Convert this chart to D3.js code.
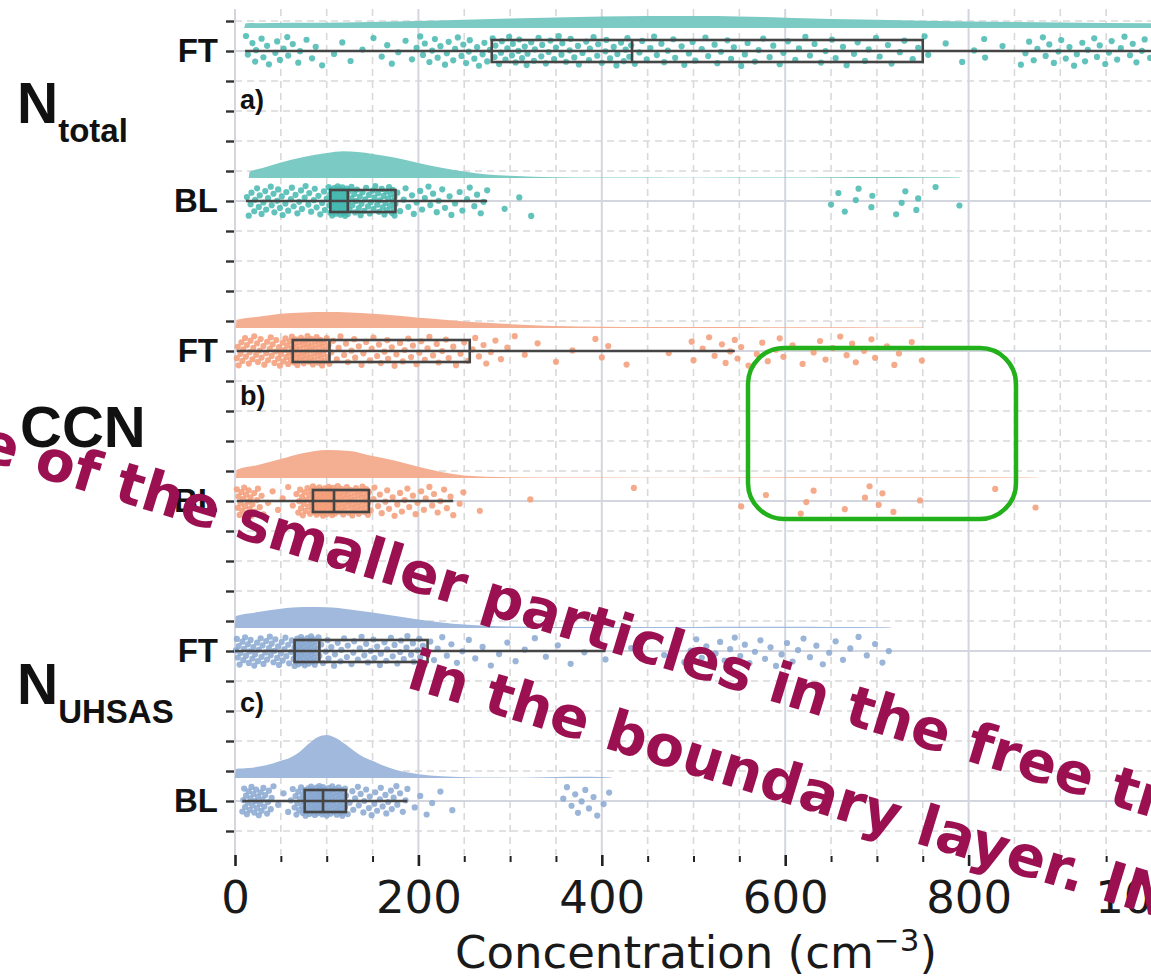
<!DOCTYPE html>
<html>
<head>
<meta charset="utf-8">
<script src="https://cdn.jsdelivr.net/npm/d3@7"></script>
<style>
  body { margin: 0; background: #fff; }
</style>
</head>
<body>
<div id="chart"></div>
<script>

// rows, top to bottom
var rowKeys = ["Ntotal FT", "Ntotal BL", "CCN FT", "CCN BL", "UHSAS FT", "UHSAS BL"];
var rowLabels = ["FT", "BL", "FT", "BL", "FT", "BL"];
var panelLabels = ["a)", "b)", "c)"];
var xTicks = [0, 200, 400, 600, 800, 1000];

// box statistics (cm^-3)
var whiskerLo = [11, 12, 2, 2, 0, 8];
var q1 = [280, 104, 63, 85, 65, 76];
var medians = [433, 123, 103, 108, 92, 96];
var q3 = [750, 175, 256, 146, 210, 121];
var whiskerHi = [1100, 275, 545, 238, 404, 188];

// observations (cm^-3)
var ptsNtotalFT = [12, 14, 19, 22, 23, 29, 31, 35, 37, 44, 46, 49, 53, 57, 58, 63, 69, 71, 78, 84, 88, 95,
  108, 117, 126, 139, 151, 160, 166, 171, 178, 186, 193, 198,
  202, 205, 207, 212, 215, 218, 221, 224, 229, 231, 233, 238, 240, 243, 247, 249, 252, 255, 256, 261, 264, 266, 270, 272, 275, 278,
  281, 283, 284, 288, 290, 291, 295, 297, 299, 302, 303, 306, 309, 310, 313, 316, 318, 319, 323, 326, 327, 331, 334, 335, 339, 342,
  344, 348, 350, 353, 356, 357, 361, 365, 366, 370, 374, 375, 379, 383, 386, 387, 391, 395, 396, 400, 404, 405, 409, 413, 416, 417,
  421, 424, 426, 428, 430, 432,
  436, 441, 444, 449, 453, 457, 460, 465, 468, 472, 478, 480, 487, 490, 495, 499, 502, 509, 513, 516, 523, 526, 530, 537, 541, 544,
  552, 556, 559, 567, 571, 576, 583, 587, 594, 598, 603, 611, 615, 622, 627, 632, 639, 644, 651, 655, 663, 667, 675, 679, 687, 691,
  699, 703, 712, 716, 725, 730, 739, 745,
  752, 756, 775, 793, 806, 817, 818, 837, 857, 862, 866, 871, 875, 881, 884, 888, 893, 898, 901, 906, 910, 915, 918, 924, 927, 930,
  937, 940, 943, 949, 953, 956, 962, 966, 970, 976, 979, 983, 989, 992, 998, 1006, 1013, 1021, 1034, 1047, 1061, 1076, 1092];

var ptsNtotalBL = [13, 15, 17, 18, 21, 22, 24, 26, 27, 29, 31, 33, 34, 36, 39, 40, 42, 43, 46, 47, 49, 51, 52, 55, 56, 58, 61, 62,
  64, 66, 68, 70, 72, 73, 76, 77, 80, 81, 83, 86, 87, 89, 91, 93, 95, 97, 98, 100, 102, 103,
  104, 104, 105, 105, 106, 106, 106, 107, 107, 108, 108, 108, 109, 109, 110, 110, 110, 111, 111, 112, 112, 112, 113, 113, 114, 114,
  114, 115, 115, 116, 116, 116, 117, 117, 118, 118, 118, 119, 119, 120, 120, 120, 121, 121, 121, 122, 122, 122, 123, 123,
  124, 125, 127, 127, 128, 130, 131, 132, 133, 135, 136, 137, 138, 139, 141, 142, 143, 145, 146, 147, 148, 150, 151, 152, 153, 155,
  156, 157, 158, 160, 161, 162, 163, 164, 165, 166, 167, 168, 169, 170, 171, 172, 172, 173, 174, 174, 175,
  177, 180, 184, 186, 189, 193, 195, 198, 202, 204, 207, 211, 213, 216, 220, 222, 226, 229, 234, 236, 240, 245, 248, 253, 256, 261,
  264, 268, 271, 275,
  294, 310, 323,
  650, 658, 665, 677, 680, 694, 695, 721, 727, 731, 743, 745, 764, 790];

var ptsCcnFT = [2, 3, 4, 6, 7, 8, 9, 11, 12, 13, 15, 16, 17, 19, 20, 21, 23, 24, 25, 27, 28, 29, 31, 32, 34, 35, 36, 38, 39, 40,
  41, 43, 44, 45, 47, 48, 49, 50, 52, 53, 54, 55, 56, 57, 58, 59, 60, 61, 62, 62,
  63, 64, 64, 65, 66, 67, 67, 68, 69, 70, 71, 71, 72, 73, 74, 75, 75, 76, 77, 78, 79, 79, 80, 81, 82, 83, 83, 84, 85, 86, 87, 87,
  88, 89, 90, 91, 91, 92, 93, 94, 95, 95, 96, 97, 98, 99, 100, 101, 102, 103,
  105, 107, 111, 113, 115, 119, 121, 123, 127, 130, 131, 135, 138, 140, 143, 147, 149, 151, 155, 157, 159, 163, 166, 167, 171, 174,
  176, 180, 183, 185, 189, 192, 194, 198, 201, 203, 207, 210, 212, 216, 220, 222, 226, 230, 233, 238, 241, 246, 250, 254,
  259, 262, 266, 271, 274, 279, 284, 290, 297, 305, 316, 330, 350, 368, 393, 400, 407, 427, 473, 498, 500, 510, 517, 523, 531, 535,
  540, 545,
  548, 552, 560, 569, 575, 581, 590, 594, 598, 608, 619, 631, 638, 644, 652, 660, 667, 673, 677, 686, 694, 698, 711, 719, 724, 738, 749];

var ptsCcnBL = [2, 3, 4, 5, 6, 7, 8, 9, 10, 11, 12, 13, 14, 15, 16, 17, 18, 19, 21, 22, 24, 25, 27, 29, 31, 36, 41, 47, 52, 58,
  63, 67, 69, 70, 71, 72, 73, 74, 75, 76, 77, 78, 79, 80, 81, 82, 83, 83, 84, 85,
  85, 86, 86, 87, 87, 88, 88, 89, 89, 90, 90, 91, 91, 92, 92, 93, 93, 94, 94, 95, 95, 96, 96, 97, 97, 98, 98, 99, 99, 100, 100,
  101, 101, 102, 102, 103, 103, 104, 104, 104, 105, 105, 106, 106, 106, 107, 107, 107, 108, 108,
  109, 109, 110, 111, 111, 112, 113, 114, 114, 115, 116, 117, 117, 118, 119, 120, 120, 121, 122, 123, 123, 124, 125, 126, 127, 127,
  128, 129, 130, 131, 131, 132, 133, 134, 135, 135, 136, 137, 138, 139, 139, 140, 141, 142, 143, 143, 144, 145, 145, 146,
  148, 151, 152, 156, 158, 160, 164, 166, 168, 172, 174, 177, 180, 182, 185, 188, 190, 194, 197, 199, 203, 206, 208, 212, 215, 217,
  221, 224, 228, 231, 235, 238,
  245, 249, 267, 322, 435, 552, 579, 617, 623, 631, 665, 687, 692, 702, 706, 718, 747, 829, 873];

var ptsUhsasFT = [1, 2, 3, 4, 5, 6, 8, 9, 10, 11, 12, 14, 15, 16, 17, 19, 20, 21, 22, 24, 25, 26, 28, 29, 30, 31, 33, 34, 35, 37,
  38, 39, 40, 42, 43, 44, 46, 47, 48, 50, 51, 52, 54, 55, 56, 58, 59, 61, 62, 64,
  65, 65, 66, 66, 67, 67, 68, 68, 69, 69, 70, 70, 71, 71, 72, 72, 73, 73, 74, 74, 75, 75, 76, 76, 77, 78, 78, 79, 79, 80, 80, 81,
  81, 82, 82, 83, 83, 84, 84, 85, 85, 86, 87, 87, 88, 88, 89, 90, 91, 92,
  94, 96, 99, 101, 102, 105, 108, 109, 112, 115, 116, 119, 122, 123, 127, 129, 130, 134, 136, 138, 141, 143, 145, 148, 151, 152,
  155, 158, 159, 163, 165, 166, 170, 172, 174, 177, 180, 181, 184, 187, 188, 192, 194, 195, 199, 201, 202, 205, 207, 209,
  213, 217, 221, 226, 231, 236, 242, 248, 255, 262, 270, 279, 288, 297, 306, 316, 327, 339, 352, 366, 381, 395, 404,
  432, 452, 468, 481, 490, 497, 503, 509, 514, 519, 524, 529, 534, 540, 545, 551, 556, 561, 567, 573, 578, 584, 590, 596, 602, 608,
  614, 620, 627, 634, 641, 648, 655, 663, 671, 680, 689, 698, 706, 713];

var ptsUhsasBL = [8, 9, 10, 11, 12, 13, 14, 15, 16, 17, 18, 19, 20, 21, 22, 23, 24, 25, 26, 27, 28, 29, 30, 31, 32, 33, 35, 36,
  37, 39, 40, 42, 47, 53, 58, 61, 63, 65, 66, 67, 68, 69, 70, 71, 72, 73, 74, 74, 75, 76,
  76, 77, 77, 78, 78, 79, 79, 80, 80, 80, 81, 81, 82, 82, 83, 83, 84, 84, 84, 85, 85, 86, 86, 87, 87, 88, 88, 88, 89, 89, 90, 90,
  91, 91, 91, 92, 92, 92, 93, 93, 93, 94, 94, 94, 95, 95, 95, 96, 96, 96,
  96, 97, 97, 98, 98, 99, 99, 100, 100, 101, 101, 102, 102, 103, 103, 104, 104, 105, 105, 106, 106, 107, 107, 108, 108, 109, 110,
  110, 111, 111, 112, 112, 113, 113, 114, 114, 115, 115, 116, 116, 117, 117, 118, 118, 119, 119, 120, 120, 121,
  123, 125, 128, 129, 131, 134, 135, 137, 140, 141, 143, 146, 147, 149, 152, 153, 155, 158, 159, 161, 164, 165, 167, 170, 171, 173,
  176, 177, 180, 183, 186, 188,
  196, 202, 209, 215, 224, 237, 358, 362, 367, 371, 374, 378, 382, 386, 391, 395, 402, 408];

// half-violin densities: [concentration, relative density]
var cloudNtotalFT = [[10, 0.0], [12, 0.11], [60, 0.12], [120, 0.13], [200, 0.16], [300, 0.22], [400, 0.27], [450, 0.28], [500, 0.28],
  [550, 0.27], [600, 0.24], [700, 0.19], [800, 0.15], [900, 0.13], [1000, 0.11], [1100, 0.08], [1200, 0.0]];
var cloudNtotalBL = [[15, 0.0], [16, 0.14], [30, 0.23], [50, 0.36], [75, 0.49], [100, 0.58], [118, 0.62], [150, 0.56], [175, 0.47],
  [200, 0.35], [225, 0.24], [250, 0.15], [275, 0.08], [300, 0.05], [325, 0.03], [350, 0.016], [400, 0.01], [500, 0.007],
  [600, 0.012], [650, 0.019], [700, 0.021], [750, 0.016], [790, 0.01], [791, 0.0]];
var cloudCcnFT = [[1, 0.0], [2, 0.19], [25, 0.26], [50, 0.33], [75, 0.36], [100, 0.37], [125, 0.36], [150, 0.33], [175, 0.29],
  [200, 0.24], [225, 0.2], [250, 0.15], [275, 0.12], [300, 0.09], [325, 0.065], [350, 0.047], [400, 0.03], [450, 0.023],
  [500, 0.021], [550, 0.021], [600, 0.019], [650, 0.019], [700, 0.014], [750, 0.009], [751, 0.0]];
var cloudCcnBL = [[1, 0.0], [2, 0.19], [25, 0.3], [50, 0.44], [75, 0.58], [100, 0.65], [125, 0.63], [150, 0.51], [175, 0.4],
  [200, 0.26], [225, 0.14], [250, 0.06], [275, 0.028], [300, 0.016], [350, 0.01], [450, 0.007], [550, 0.012], [650, 0.016],
  [750, 0.016], [850, 0.012], [875, 0.007], [876, 0.0]];
var cloudUhsasFT = [[0, 0.0], [1, 0.28], [25, 0.37], [50, 0.45], [75, 0.49], [100, 0.48], [125, 0.43], [150, 0.36], [175, 0.28],
  [200, 0.2], [225, 0.13], [250, 0.08], [275, 0.05], [300, 0.035], [350, 0.023], [400, 0.021], [450, 0.023], [500, 0.026],
  [550, 0.028], [600, 0.028], [650, 0.026], [700, 0.019], [715, 0.012], [716, 0.0]];
var cloudUhsasBL = [[0, 0.0], [1, 0.21], [15, 0.23], [25, 0.26], [40, 0.33], [50, 0.4], [60, 0.47], [70, 0.6], [80, 0.79],
  [90, 0.95], [100, 1.0], [110, 0.93], [120, 0.79], [130, 0.63], [140, 0.49], [150, 0.4], [160, 0.3], [175, 0.19], [200, 0.09],
  [225, 0.042], [250, 0.019], [275, 0.009], [300, 0.007], [325, 0.012], [350, 0.023], [375, 0.03], [400, 0.023], [410, 0.012],
  [411, 0.0]];

var rowPoints = [ptsNtotalFT, ptsNtotalBL, ptsCcnFT, ptsCcnBL, ptsUhsasFT, ptsUhsasBL];
var rowClouds = [cloudNtotalFT, cloudNtotalBL, cloudCcnFT, cloudCcnBL, cloudUhsasFT, cloudUhsasBL];

var pointColors = ["#45b8b0", "#f39c77", "#88a8d1"];
var cloudColors = ["#7ccac4", "#f4ae91", "#a0b9dd"];

var W = 1151, H = 980;

var svg = d3.select("#chart").append("svg")
  .attr("width", W)
  .attr("height", H)
  .style("font-family", "'Liberation Sans', Arial, sans-serif");

var x = d3.scaleLinear().domain([0, 1000]).range([235, 1152]);
// row index -> pixel
var y = d3.scaleLinear().domain([0, 5]).range([51, 801]);
var h = d3.scaleLinear().domain([0, 1]).range([0, 43]);

var plotTop = y(-0.28), plotBottom = y(5.36);
var yMinor = d3.range(-1, 27).map(function (k) { return +(k * 0.2).toFixed(1); });
var xMinor = d3.range(0, 1001, 50);

// grid
var grid = svg.append("g").attr("class", "grid");
grid.selectAll("line.vminor")
  .data(xMinor.filter(function (d) { return d % 200 != 0; }))
  .join("line")
  .attr("x1", function (d) { return x(d); }).attr("x2", function (d) { return x(d); })
  .attr("y1", plotTop).attr("y2", plotBottom)
  .attr("stroke", "#d9d9d9").attr("stroke-width", 1.6).attr("stroke-dasharray", "7,5");
grid.selectAll("line.hminor")
  .data(yMinor.filter(function (d) { return Math.abs(d - Math.round(d)) > 0.01; }))
  .join("line")
  .attr("x1", x(0)).attr("x2", W)
  .attr("y1", function (d) { return y(d); }).attr("y2", function (d) { return y(d); })
  .attr("stroke", "#d9d9d9").attr("stroke-width", 1.6).attr("stroke-dasharray", "7,5");
grid.selectAll("line.vmajor")
  .data(xTicks)
  .join("line")
  .attr("x1", function (d) { return x(d); }).attr("x2", function (d) { return x(d); })
  .attr("y1", plotTop).attr("y2", plotBottom)
  .attr("stroke", "#d3d6de").attr("stroke-width", 2);
grid.selectAll("line.hmajor")
  .data(d3.range(rowKeys.length))
  .join("line")
  .attr("x1", x(0)).attr("x2", W)
  .attr("y1", function (d) { return y(d); }).attr("y2", function (d) { return y(d); })
  .attr("stroke", "#d3d6de").attr("stroke-width", 2.2);

// clouds
var cloudGap = 23;
rowClouds.forEach(function (cloud, i) {
  var base = y(i) - cloudGap;
  var area = d3.area()
    .curve(d3.curveMonotoneX)
    .x(function (d) { return x(d[0]); })
    .y0(base)
    .y1(function (d) { return base - h(d[1]); });
  svg.append("path")
    .datum(cloud)
    .attr("d", area)
    .attr("fill", cloudColors[Math.floor(i / 2)]);
});

// rain: vertical spread within +-15px, staggered by index
rowPoints.forEach(function (pts, i) {
  svg.append("g").selectAll("circle")
    .data(pts)
    .join("circle")
    .attr("cx", function (d) { return x(d); })
    .attr("cy", function (d, j) {
      var f = (j * 0.6180339887 + i * 0.37) % 1;
      return y(i) + (f - 0.5) * 30;
    })
    .attr("r", 3.1)
    .attr("fill", pointColors[Math.floor(i / 2)])
    .attr("fill-opacity", 0.85);
});

// boxes
var boxHalf = 11;
var boxes = svg.append("g").attr("class", "boxes");
rowKeys.forEach(function (k, i) {
  var g = boxes.append("g");
  g.append("line")
    .attr("x1", x(whiskerLo[i])).attr("x2", x(whiskerHi[i]))
    .attr("y1", y(i)).attr("y2", y(i))
    .attr("stroke", "#454545").attr("stroke-width", 2.4);
  g.append("rect")
    .attr("x", x(q1[i])).attr("width", x(q3[i]) - x(q1[i]))
    .attr("y", y(i) - boxHalf).attr("height", 2 * boxHalf)
    .attr("fill", "none").attr("stroke", "#454545").attr("stroke-width", 2.6);
  g.append("line")
    .attr("x1", x(medians[i])).attr("x2", x(medians[i]))
    .attr("y1", y(i) - boxHalf).attr("y2", y(i) + boxHalf)
    .attr("stroke", "#454545").attr("stroke-width", 2.6);
});

// y axis
var yAxis = d3.axisLeft(y)
  .tickValues(yMinor)
  .tickSize(8)
  .tickPadding(8)
  .tickFormat(function (d) {
    return Math.abs(d - Math.round(d)) < 0.01 ? rowLabels[Math.round(d)] : "";
  });
var gy = svg.append("g").attr("transform", "translate(234,0)").call(yAxis);
gy.select(".domain").remove();
gy.selectAll(".tick line").attr("stroke", "#333").attr("stroke-width", 2.4);
gy.selectAll(".tick text")
  .attr("fill", "#111")
  .style("font-family", "'Liberation Sans', Arial, sans-serif")
  .style("font-weight", "bold")
  .style("font-size", "33px");

// x axis
var xAxis = d3.axisBottom(x).tickValues(xTicks).tickSize(11).tickPadding(15).tickFormat(d3.format("d"));
var gx = svg.append("g").attr("transform", "translate(0," + (plotBottom) + ")").call(xAxis);
gx.select(".domain").remove();
gx.selectAll(".tick line").attr("stroke", "#222").attr("stroke-width", 2.6);
gx.selectAll(".tick text")
  .attr("fill", "#1a1a1a")
  .style("font-family", "'DejaVu Sans', sans-serif")
  .style("font-size", "45px");

var xAxisMinor = d3.axisBottom(x)
  .tickValues(xMinor.filter(function (d) { return d % 200 != 0; }))
  .tickSize(6).tickFormat("");
var gxm = svg.append("g").attr("transform", "translate(0," + (plotBottom + 1) + ")").call(xAxisMinor);
gxm.select(".domain").remove();
gxm.selectAll(".tick line").attr("stroke", "#222").attr("stroke-width", 2);

var xLabel = svg.append("text")
  .attr("x", 696).attr("y", 968)
  .attr("text-anchor", "middle")
  .attr("fill", "#1a1a1a")
  .style("font-family", "'DejaVu Sans', sans-serif")
  .style("font-size", "45px");
xLabel.append("tspan").text("Concentration (cm");
xLabel.append("tspan").attr("dy", -17).style("font-size", "31px").text("\u22123");
xLabel.append("tspan").attr("dy", 17).text(")");

// panel letters
panelLabels.forEach(function (p, k) {
  svg.append("text")
    .attr("x", 240).attr("y", y(2 * k) + [58, 54, 61][k])
    .attr("fill", "#111")
    .style("font-weight", "bold")
    .style("font-size", "27px")
    .text(p);
});

// variable names
function varLabel(main, sub, yBase) {
  var t = svg.append("text")
    .attr("x", main == "CCN" ? 20 : 17).attr("y", yBase)
    .attr("fill", "#111")
    .style("font-weight", "bold")
    .style("font-size", main == "CCN" ? "58px" : "57px");
  t.append("tspan").text(main);
  if (sub) t.append("tspan").attr("dy", 19).style("font-size", "33px").text(sub);
}
varLabel("N", "total", 123);
varLabel("CCN", null, 447);
varLabel("N", "UHSAS", 704);

// overlay annotations
var note = svg.append("g")
  .attr("fill", "#9b1050")
  .style("font-family", "'DejaVu Sans', sans-serif")
  .style("font-weight", "bold")
  .style("font-size", "57px");
note.append("text")
  .attr("transform", "translate(-24,458) rotate(17)")
  .text("e of the smaller particles in the free tr");
note.append("text")
  .attr("transform", "translate(405,687) rotate(17)")
  .text("in the boundary layer. IN");

svg.append("rect")
  .attr("x", 748).attr("y", 348)
  .attr("width", 268).attr("height", 171)
  .attr("rx", 36).attr("ry", 36)
  .attr("fill", "none")
  .attr("stroke", "#22b11a")
  .attr("stroke-width", 4.5);

</script>
</body>
</html>
